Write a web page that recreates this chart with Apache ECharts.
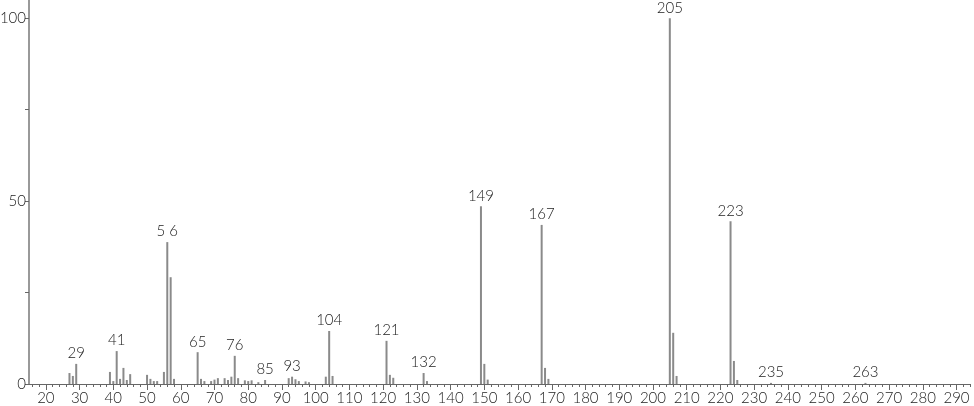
<!DOCTYPE html>
<html><head><meta charset="utf-8">
<script src="https://cdn.jsdelivr.net/npm/echarts@6/dist/echarts.min.js"></script>
<style>html,body{margin:0;padding:0;background:#fff}#c{width:974px;height:406px}</style>
</head><body><div id="c"></div>
<script>
const mz = [27,28,29,39,40,41,42,43,44,45,50,51,52,53,55,56,57,58,65,66,67,69,70,71,73,74,75,76,77,79,80,81,83,85,92,93,94,95,97,98,103,104,105,121,122,123,132,133,149,150,151,167,168,169,205,206,207,223,224,225,235,263];
const intensity = [3.0,2.2,5.5,3.3,0.8,9.0,1.4,4.4,1.1,2.7,2.5,1.4,0.8,0.8,3.3,38.8,29.2,1.4,8.7,1.4,0.8,0.8,1.2,1.6,1.6,1.1,2.0,7.7,1.6,1.0,0.8,1.0,0.5,1.1,1.6,2.0,1.3,0.8,0.7,0.5,2.0,14.5,2.2,11.8,2.5,1.7,3.0,0.8,48.6,5.5,1.2,43.5,4.4,1.4,100,14.0,2.2,44.5,6.3,1.1,0.3,0.3];
const labelledPeaks = [29,41,56,65,76,85,93,104,121,132,149,167,205,223,235,263];
const labelTexts = ['29','41','5 6','65','76','85','93','104','121','132','149','167','205','223','235','263'];
const xMajorTicks = [20,30,40,50,60,70,80,90,100,110,120,130,140,150,160,170,180,190,200,210,220,230,240,250,260,270,280,290];
const xMinorTicks = [];
for (let v = 16; v <= 294; v += 2) xMinorTicks.push(v);
const yTicks = [0,25,50,75,100];
const yLabels = [0,50,100];

const font = 'Lato';
const data = mz.map((m, i) => {
  const li = labelledPeaks.indexOf(m);
  const item = { value: [m, intensity[i]] };
  if (li >= 0) item.label = { show: true, formatter: labelTexts[li] };
  return item;
});

const chart = echarts.init(document.getElementById('c'), null, { renderer: 'canvas' });
chart.setOption({
  animation: false,
  grid: { left: 29, right: 4, top: 0, bottom: 22, containLabel: false, outerBoundsMode: 'none' },
  xAxis: [{
    type: 'value', min: 15, max: 294,
    axisLine: { show: true, lineStyle: { color: '#666', width: 1 } },
    axisTick: { show: true, customValues: xMajorTicks, length: 6, lineStyle: { color: '#666' } },
    axisLabel: { show: true, customValues: xMajorTicks, fontFamily: font, fontWeight: 300, fontSize: 15, color: '#222', margin: 7 },
    splitLine: { show: false }
  }, {
    type: 'value', min: 15, max: 294, position: 'bottom',
    axisLine: { show: false },
    axisTick: { show: true, customValues: xMinorTicks, length: 3, lineStyle: { color: '#666' } },
    axisLabel: { show: false },
    splitLine: { show: false }
  }],
  yAxis: {
    type: 'value', min: 0, max: 105,
    axisLine: { show: true, lineStyle: { color: '#999', width: 2 } },
    axisTick: { show: true, customValues: yTicks, length: 4, lineStyle: { color: '#666' } },
    axisLabel: { show: true, customValues: yLabels, fontFamily: font, fontWeight: 300, fontSize: 15, color: '#222', margin: 3 },
    splitLine: { show: false }
  },
  series: [{
    type: 'bar', xAxisIndex: 0, data: data, barWidth: 2,
    itemStyle: { color: '#8a8a8a' },
    label: { show: false, position: 'top', distance: 3, fontFamily: font, fontWeight: 300, fontSize: 15, color: '#222' }
  }]
});
</script></body></html>
